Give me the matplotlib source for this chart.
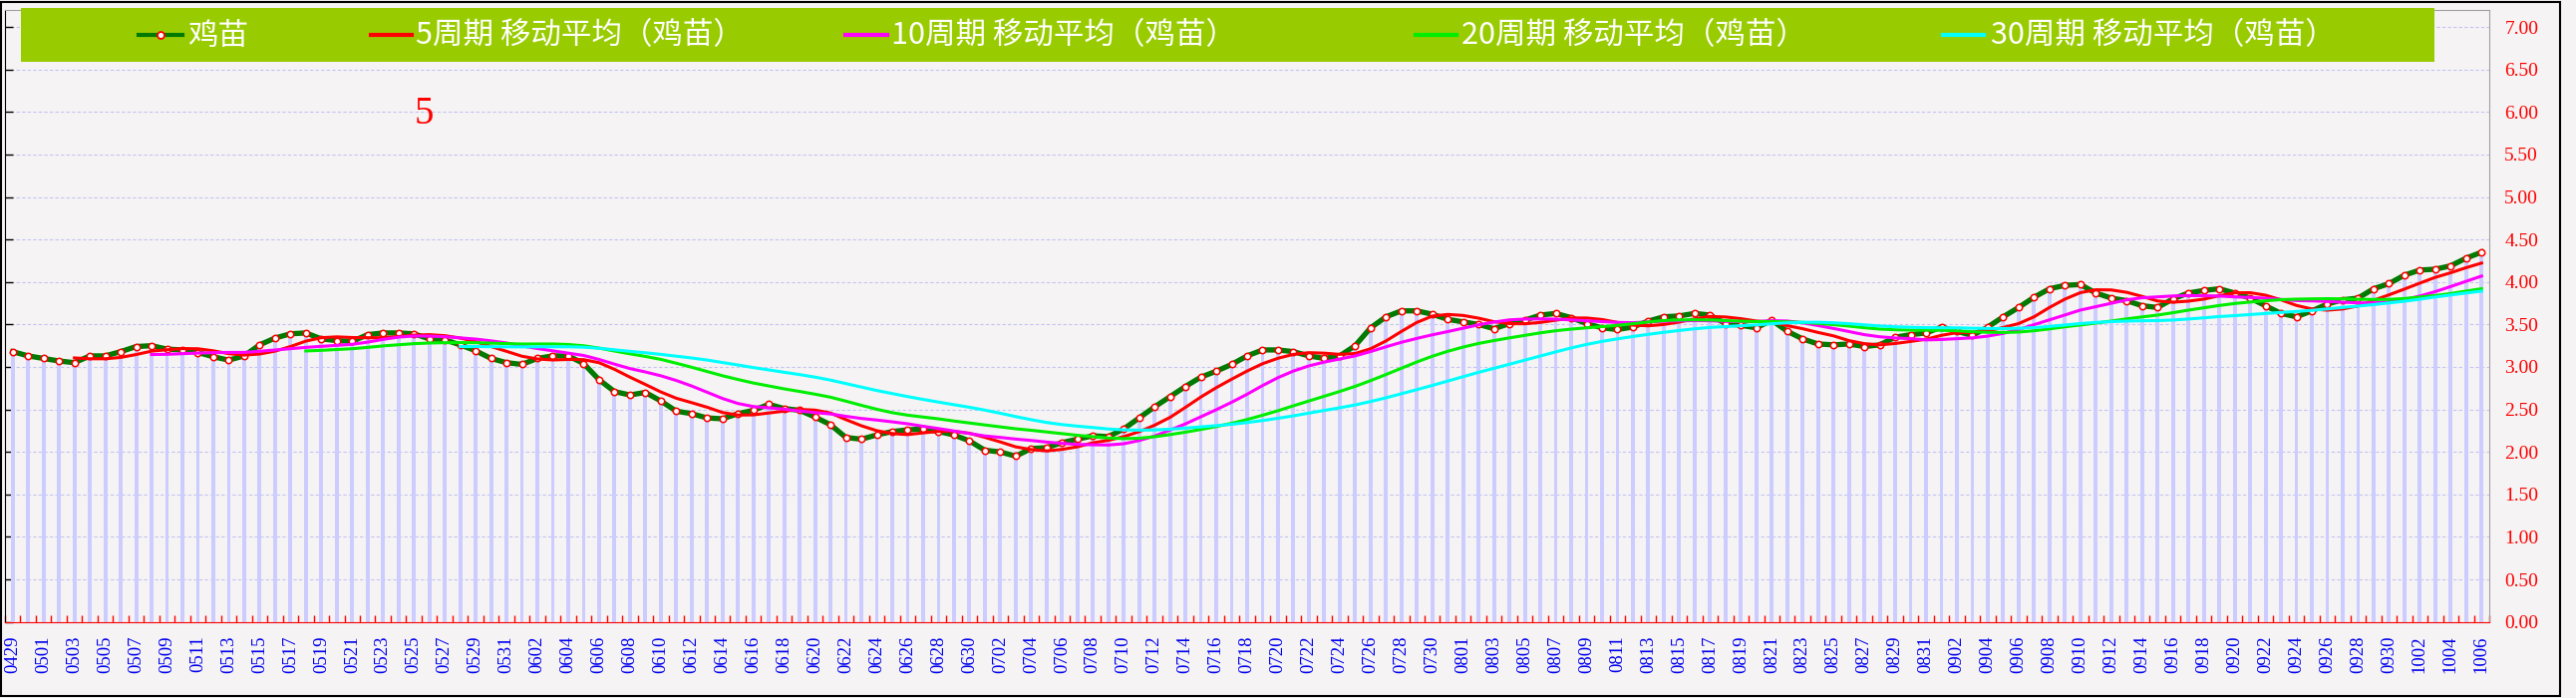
import numpy as np
import pandas as pd
import matplotlib

matplotlib.use("Agg")
import matplotlib.pyplot as plt
from matplotlib.patches import Rectangle
from matplotlib.ticker import MultipleLocator, FormatStrFormatter

plt.rcParams["font.family"] = ["Liberation Serif", "Noto Sans CJK SC", "DejaVu Sans"]

W, H = 2584, 700
PAPER = "#f5f3f3"

# daily categories 0429 .. 1006
dates = pd.date_range("2023-04-29", "2023-10-06", freq="D")
date_labels = list(dates.strftime("%m%d"))

# 鸡苗 price, one value per day
price = [
    3.18, 3.13, 3.10, 3.07, 3.05, 3.13, 3.13, 3.18, 3.24, 3.25, 3.21, 3.20, 3.17, 3.12, 3.08, 3.13,
    3.26, 3.34, 3.39, 3.40, 3.33, 3.31, 3.30, 3.38, 3.40, 3.40, 3.39, 3.33, 3.32, 3.26, 3.19, 3.10,
    3.05, 3.03, 3.10, 3.13, 3.13, 3.04, 2.85, 2.71, 2.67, 2.70, 2.60, 2.48, 2.45, 2.40, 2.39, 2.45,
    2.49, 2.56, 2.51, 2.49, 2.41, 2.32, 2.17, 2.15, 2.20, 2.24, 2.26, 2.27, 2.24, 2.20, 2.13, 2.02,
    2.00, 1.95, 2.04, 2.05, 2.11, 2.15, 2.19, 2.18, 2.27, 2.40, 2.53, 2.65, 2.77, 2.88, 2.95, 3.03,
    3.13, 3.20, 3.20, 3.18, 3.13, 3.10, 3.13, 3.25, 3.46, 3.59, 3.66, 3.66, 3.62, 3.56, 3.53, 3.50,
    3.45, 3.51, 3.55, 3.61, 3.63, 3.58, 3.51, 3.46, 3.44, 3.47, 3.54, 3.59, 3.60, 3.63, 3.61, 3.51,
    3.49, 3.46, 3.55, 3.42, 3.33, 3.27, 3.26, 3.27, 3.24, 3.26, 3.35, 3.38, 3.40, 3.47, 3.42, 3.37,
    3.47, 3.59, 3.70, 3.82, 3.92, 3.96, 3.97, 3.87, 3.81, 3.78, 3.72, 3.70, 3.80, 3.87, 3.90, 3.92,
    3.87, 3.81, 3.72, 3.63, 3.59, 3.66, 3.74, 3.79, 3.81, 3.92, 3.98, 4.08, 4.14, 4.15, 4.19, 4.28,
    4.35,
]

ma_periods = [5, 10, 20, 30]
ma_colors = ["#ff0000", "#ff00ff", "#00ee00", "#00ffff"]
series_name = "鸡苗"
ma_names = [f"{n}周期 移动平均（{series_name}）" for n in ma_periods]

fig = plt.figure(figsize=(W / 100, H / 100), dpi=100, facecolor=PAPER)
ax = fig.add_axes([5 / W, 1 - 623.7 / H, 2492 / W, 613.7 / H])
ax.set_facecolor(PAPER)

x = np.arange(len(price))
ax.bar(x, price, width=0.25, color="#ccccff", zorder=1)
ax.plot(x, price, color="#007a00", lw=3.8, zorder=3,
        marker="o", ms=4.6, mfc="white", mec="red", mew=1.1)
price_series = pd.Series(price)
for n, color in zip(ma_periods, ma_colors):
    ax.plot(x, price_series.rolling(n).mean(), color=color, lw=2.2, zorder=4)

ax.set_xlim(-0.5, len(price) - 0.5)
ax.set_ylim(0, 7.2)

ax.yaxis.set_major_locator(MultipleLocator(0.5))
ax.yaxis.set_major_formatter(FormatStrFormatter("%.2f"))
ax.grid(axis="y", color="#c4c4f4", ls=(0, (3, 2)), lw=0.8)
ax.set_axisbelow(True)
ax.tick_params(axis="y", direction="in", length=6, width=1, color="black",
               left=True, right=False, labelleft=False, labelright=True,
               labelcolor="red", labelsize=14, pad=11)

ax.set_xticks(x[::2])
ax.set_xticklabels(date_labels[::2], rotation=90)
ax.set_xticks(np.arange(-0.5, len(price)), minor=True)
ax.tick_params(axis="x", which="major", length=0, pad=10,
               labelcolor="#0000ee", labelsize=13.5)
ax.tick_params(axis="x", which="minor", direction="in", length=5, color="red", width=1)

ax.spines["left"].set_color("black")
ax.spines["bottom"].set_color("red")
ax.spines["top"].set_color("#a0a0a0")
ax.spines["right"].set_color("#a0a0a0")

fig.text(425 / W, 1 - 115 / H, "5", color="red", fontsize=28,
         ha="center", va="center", family="Liberation Serif")

# legend band, drawn in pixel coordinates
lg = fig.add_axes([21 / W, 1 - 62 / H, 2421 / W, 54 / H])
lg.set_facecolor("#99cc00")
lg.set_xlim(21, 2442)
lg.set_ylim(62, 8)
lg.set_xticks([])
lg.set_yticks([])
for spine in lg.spines.values():
    spine.set_visible(False)

legend_font = ["Noto Sans CJK SC", "DejaVu Sans"]
lg.plot([139, 183], [35, 35], color="#007a00", lw=3)
lg.plot([161], [35], "o", ms=5, mfc="white", mec="red", mew=1.3)
lg.text(188, 36, series_name, color="white", fontsize=22, va="center",
        family=legend_font, fontweight="light")

legend_spots = [(372, 413, 417), (848, 890, 894), (1420, 1461, 1466), (1949, 1990, 1997)]
for name, color, (x0, x1, tx) in zip(ma_names, ma_colors, legend_spots):
    lg.plot([x0, x1], [35, 35], color=color, lw=3)
    lg.text(tx, 36, name, color="white", fontsize=22, va="center",
            family=legend_font, fontweight="light")

fig.add_artist(Rectangle((1 / W, 2 / H), 2567 / W, 696 / H, fill=False,
                         ec="black", lw=1.5, transform=fig.transFigure))

fig.savefig("out.png", dpi=100, facecolor=fig.get_facecolor())
plt.close(fig)
